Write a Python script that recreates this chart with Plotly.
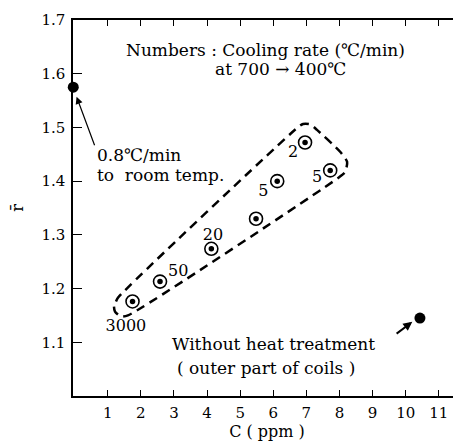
import plotly.graph_objects as go

# circled data points (cooling rates)
c_ppm = [1.75, 2.58, 4.13, 5.48, 6.12, 6.96, 7.72]
r_val = [1.176, 1.213, 1.274, 1.330, 1.400, 1.472, 1.420]

# rate labels
lab_text = ["3000", "50", "20", "5", "2", "5"]
lab_x = [1.55, 3.13, 4.18, 5.70, 6.60, 7.32]
lab_y = [1.128, 1.230, 1.298, 1.379, 1.453, 1.406]

# filled points
slow_x, slow_y = [-0.04], [1.575]      # 0.8 C/min to room temp
noht_x, noht_y = [10.43], [1.145]      # without heat treatment

# dashed outline around the group
outline_x = [1.19, 1.25, 1.31, 6.72, 6.90, 7.11, 7.32, 8.02, 8.23, 8.17, 7.96, 1.61, 1.40, 1.22, 1.19]
outline_y = [1.168, 1.176, 1.183, 1.499, 1.5065, 1.506, 1.4955, 1.4546, 1.436, 1.417, 1.406, 1.150, 1.148, 1.157, 1.168]

x_ticks = list(range(1, 12))
y_ticks = [1.1, 1.2, 1.3, 1.4, 1.5, 1.6, 1.7]

FONT = "DejaVu Serif, Liberation Serif, serif"

fig = go.Figure()
fig.add_trace(go.Scatter(x=outline_x, y=outline_y, mode="lines",
                         line=dict(color="black", width=2.5, dash="9px,6px", shape="spline", smoothing=0.6),
                         hoverinfo="skip", showlegend=False))
fig.add_trace(go.Scatter(x=c_ppm, y=r_val, mode="markers",
                         marker=dict(symbol="circle-open", size=13, color="black", line=dict(width=1.6)),
                         showlegend=False))
fig.add_trace(go.Scatter(x=c_ppm, y=r_val, mode="markers",
                         marker=dict(symbol="circle", size=5.5, color="black"), showlegend=False))
fig.add_trace(go.Scatter(x=slow_x + noht_x, y=slow_y + noht_y, mode="markers", cliponaxis=False,
                         marker=dict(symbol="circle", size=11, color="black"), showlegend=False))
fig.add_trace(go.Scatter(x=lab_x, y=lab_y, mode="text", text=lab_text,
                         textfont=dict(family=FONT, size=16, color="black"), showlegend=False))

ann = [
    dict(x=5.76, y=1.645, text="Numbers : Cooling rate (℃/min)"),
    dict(x=6.21, y=1.608, text="at 700 → 400℃"),
    dict(x=0.62, y=1.449, text="0.8℃/min", xanchor="left"),
    dict(x=0.62, y=1.412, text="to  room temp.", xanchor="left"),
    dict(x=6.02, y=1.096, text="Without heat treatment"),
    dict(x=5.77, y=1.053, text="( outer part of coils )"),
]
for a in ann:
    fig.add_annotation(xref="x", yref="y", showarrow=False,
                       font=dict(family=FONT, size=17, color="black"), **a)

# arrows
fig.add_annotation(x=0.06, y=1.557, ax=0.62, ay=1.464, xref="x", yref="y", axref="x", ayref="y",
                   showarrow=True, arrowhead=2, arrowsize=1.2, arrowwidth=1.2, arrowcolor="black", text="")
fig.add_annotation(x=10.2, y=1.138, ax=9.68, ay=1.114, xref="x", yref="y", axref="x", ayref="y",
                   showarrow=True, arrowhead=2, arrowsize=0.9, arrowwidth=2, arrowcolor="black", text="")

# page body has an 8px margin: size the figure so the plot lands where the reference has it
fig.update_layout(
    width=453, height=438,
    margin=dict(l=65, r=0, t=12, b=50),
    plot_bgcolor="white", paper_bgcolor="white",
    font=dict(family=FONT, size=15, color="black"),
    showlegend=False,
)
fig.update_xaxes(range=[-0.048, 11.67], tickvals=x_ticks, ticktext=[str(v) for v in x_ticks],
                 ticks="inside", ticklen=6, tickwidth=1.3, tickcolor="black",
                 showline=True, linecolor="black", linewidth=1.5, mirror="ticks",
                 showgrid=False, zeroline=False, ticklabelstandoff=2,
                 title=dict(text="C ( ppm )", font=dict(family=FONT, size=16), standoff=1))
fig.update_yaxes(range=[1.0, 1.7], tickvals=y_ticks, ticktext=[f"{v:.1f}" for v in y_ticks],
                 ticks="inside", ticklen=9, tickwidth=1.3, tickcolor="black",
                 showline=True, linecolor="black", linewidth=1.5, mirror=False,
                 showgrid=False, zeroline=False, ticklabelstandoff=3,
                 title=dict(text="r\u0304", font=dict(family=FONT, size=16), standoff=23))

fig.write_html("out.html")
